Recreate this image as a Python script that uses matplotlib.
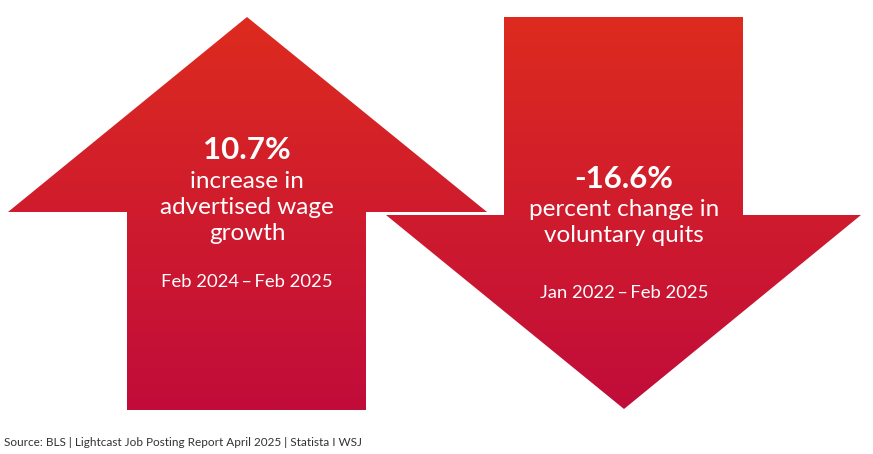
import numpy as np
import matplotlib
matplotlib.use("Agg")
import matplotlib.pyplot as plt
from matplotlib.patches import Polygon
from matplotlib.colors import LinearSegmentedColormap

values = ["10.7%", "-16.6%"]
descriptions = [["increase in", "advertised wage", "growth"], ["percent change in", "voluntary quits"]]
periods = ["Feb 2024\u2009\u2013\u2009Feb 2025", "Jan 2022\u2009\u2013\u2009Feb 2025"]
source = "Source: BLS | Lightcast Job Posting Report April 2025 | Statista I WSJ"

W, H = 873, 454
fig = plt.figure(figsize=(W/100, H/100), dpi=100)
ax = fig.add_axes([0, 0, 1, 1])
ax.set_xlim(0, W); ax.set_ylim(H, 0); ax.axis("off")

cmap = LinearSegmentedColormap.from_list("g", ["#dd2b1f", "#c10c3b"])
grad = np.linspace(0, 1, 256).reshape(-1, 1)

up = [(247, 17), (487, 212), (366, 212), (366, 410), (127, 410), (127, 212), (8, 212)]
down = [(504, 17), (743, 17), (743, 215), (861, 215), (624, 409), (386, 215), (504, 215)]
for pts in (up, down):
    poly = Polygon(pts, closed=True, facecolor="none", edgecolor="none")
    ax.add_patch(poly)
    im = ax.imshow(grad, cmap=cmap, extent=(0, W, 410, 17), aspect="auto", zorder=1)
    im.set_clip_path(poly)
ax.set_xlim(0, W); ax.set_ylim(H, 0)

fam = ["Lato", "DejaVu Sans"]
kw = dict(color="white", ha="center", va="center", family=fam, zorder=3)
ax.text(247, 150, values[0], fontsize=22.5, fontweight="bold", **kw)
for i, s in enumerate(descriptions[0]):
    ax.text(247, 182 + 25.5*i, s, fontsize=17.5, **kw)
ax.text(247, 282, periods[0], fontsize=13.3, **kw)

ax.text(624, 179, values[1], fontsize=22.5, fontweight="bold", **kw)
for i, s in enumerate(descriptions[1]):
    ax.text(624, 210 + 25.5*i, s, fontsize=17.5, **kw)
ax.text(624, 293, periods[1], fontsize=13.3, **kw)

ax.text(4, 443, source, fontsize=8.5, color="#333333", ha="left", va="center", family=fam)
fig.savefig("out.png", dpi=100)
